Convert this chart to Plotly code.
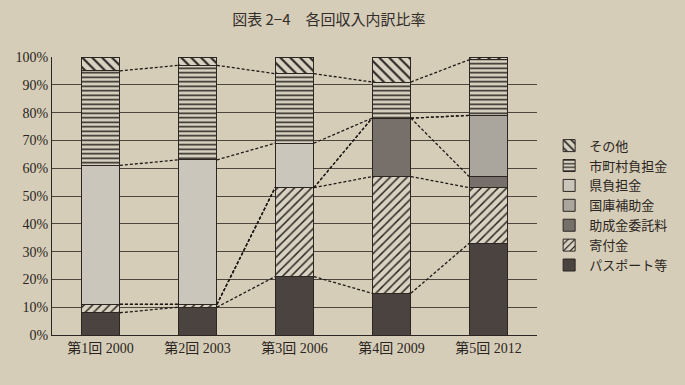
import plotly.graph_objects as go

categories = ["第1回 2000", "第2回 2003", "第3回 2006", "第4回 2009", "第5回 2012"]
series_names = ["パスポート等", "寄付金", "助成金委託料", "国庫補助金", "県負担金", "市町村負担金", "その他"]
passport = [8, 10, 21, 15, 33]
kifu = [3, 1, 32, 42, 20]
josei = [0, 0, 0, 21, 4]
kokko = [0, 0, 0, 0, 22]
ken = [50, 52, 16, 0, 0]
shichoson = [34, 34, 25, 13, 20]
sonota = [5, 3, 6, 9, 1]
y_ticks = [0, 10, 20, 30, 40, 50, 60, 70, 80, 90, 100]
y_ticklabels = [f"{v}%" for v in y_ticks]

values = [passport, kifu, josei, kokko, ken, shichoson, sonota]
BG = "#d6cdb9"
DARK = "#2b2622"
styles = [
    dict(color="#4a4340", pattern=None),
    dict(color="#d9d2c2", pattern=dict(shape="/", fgcolor=DARK, bgcolor="#d9d2c2", size=6, solidity=0.25, fillmode="replace")),
    dict(color="#77706a", pattern=None),
    dict(color="#aaa59d", pattern=None),
    dict(color="#cbc6bb", pattern=None),
    dict(color="#d9d2c2", pattern=dict(shape="-", fgcolor=DARK, bgcolor="#d9d2c2", size=4.5, solidity=0.35, fillmode="replace")),
    dict(color="#d9d2c2", pattern=dict(shape="\\", fgcolor=DARK, bgcolor="#d9d2c2", size=7, solidity=0.3, fillmode="replace")),
]

xs = list(range(len(categories)))
fig = go.Figure()
for name, vals, st in zip(series_names, values, styles):
    marker = dict(color=st["color"], line=dict(color=DARK, width=1))
    if st["pattern"] is not None:
        marker["pattern"] = st["pattern"]
    fig.add_trace(go.Bar(x=xs, y=vals, name=name, width=0.4, marker=marker))

# dashed connectors between cumulative tops
half = 0.2
cum = [0] * len(categories)
for vals in values[:-1]:
    cum = [c + v for c, v in zip(cum, vals)]
    lx, ly = [], []
    for i in range(len(categories) - 1):
        lx += [xs[i] + half, xs[i + 1] - half, None]
        ly += [cum[i], cum[i + 1], None]
    fig.add_trace(go.Scatter(x=lx, y=ly, mode="lines", showlegend=False, hoverinfo="skip",
                             line=dict(color="#1e1a17", width=1.3, dash="3px,2px")))

fig.update_layout(
    barmode="stack",
    width=685, height=385,
    margin=dict(l=52, r=135, t=57, b=50),
    paper_bgcolor=BG, plot_bgcolor=BG,
    title=dict(text="図表 2−4　各回収入内訳比率", x=0.48, xanchor="center", y=0.948, yanchor="middle",
               font=dict(family="Noto Sans CJK JP", size=15, color="#332e29")),
    font=dict(family="Liberation Serif, Noto Sans CJK JP", size=14, color="#2a2520"),
    legend=dict(x=1.025, xanchor="left", y=0.735, yanchor="top", traceorder="reversed",
                bgcolor="rgba(0,0,0,0)", tracegroupgap=0, itemwidth=30,
                font=dict(family="Noto Sans CJK JP", size=13, color="#2a2520")),
    showlegend=True,
)
fig.update_xaxes(tickvals=xs, ticktext=categories, range=[-0.5, 4.5], showgrid=False,
                 showline=True, linecolor=DARK, linewidth=1, ticks="", zeroline=False)
fig.update_yaxes(range=[0, 100], tickvals=y_ticks, ticktext=y_ticklabels, showgrid=True,
                 gridcolor="#4d463e", gridwidth=1, showline=True, linecolor=DARK, linewidth=1,
                 ticks="", zeroline=False)

fig.write_html("out.html")
